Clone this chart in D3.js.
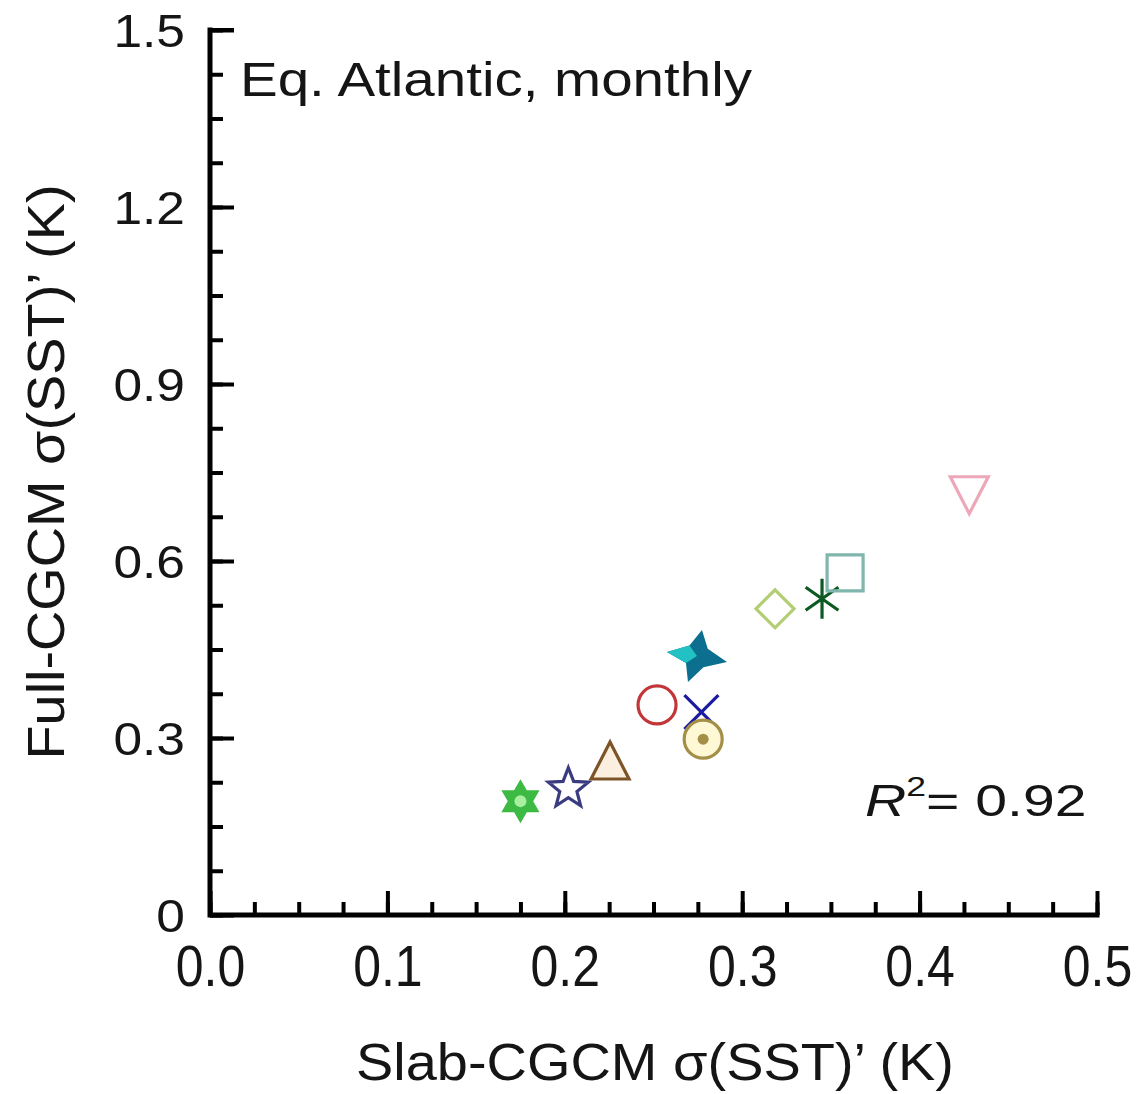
<!DOCTYPE html>
<html>
<head>
<meta charset="utf-8">
<script src="https://cdn.jsdelivr.net/npm/d3@7"></script>
<style>
body { margin: 0; background: #fff; }
text { font-family: "Liberation Sans", Arial, sans-serif; fill: #151515; }
</style>
</head>
<body>
<div id="chart"></div>
<script>
// one marker per model
var models = ['hexagram', 'star', 'triangleUp', 'circle', 'cross', 'circleDot', 'bowtie', 'diamond', 'asterisk', 'square', 'triangleDown']
var slabSd = [0.175, 0.202, 0.2255, 0.252, 0.277, 0.278, 0.2745, 0.3185, 0.345, 0.358, 0.428]
var fullSd = [0.193, 0.214, 0.261, 0.356, 0.344, 0.298, 0.439, 0.519, 0.536, 0.580, 0.714]

var xTicks = [0, 0.1, 0.2, 0.3, 0.4, 0.5]
var xTickLabels = ['0.0', '0.1', '0.2', '0.3', '0.4', '0.5']
var yTicks = [0, 0.3, 0.6, 0.9, 1.2, 1.5]
var yTickLabels = ['0', '0.3', '0.6', '0.9', '1.2', '1.5']

var title = 'Eq. Atlantic, monthly'
var rSquared = '0.92'

var margin = {left: 210, right: 39, top: 30, bottom: 179}
var totalWidth = 1136, totalHeight = 1094
var width = totalWidth - margin.left - margin.right
var height = totalHeight - margin.top - margin.bottom

var svg = d3.select('#chart').append('svg')
  .attr('width', totalWidth)
  .attr('height', totalHeight)

var g = svg.append('g').attr('transform', 'translate(' + margin.left + ',' + margin.top + ')')

var x = d3.scaleLinear().domain([0, 0.5]).range([0, width])
var y = d3.scaleLinear().domain([0, 1.5]).range([height, 0])

// minor ticks
g.append('g')
  .attr('transform', 'translate(0,' + height + ')')
  .call(d3.axisBottom(x).tickValues(d3.range(0, 0.5001, 0.025)).tickSize(-13).tickSizeOuter(0).tickFormat(''))
  .call(s => s.select('.domain').remove())
  .call(s => s.selectAll('line').attr('stroke', '#000').attr('stroke-width', 4))

g.append('g')
  .call(d3.axisLeft(y).tickValues(d3.range(0, 1.5001, 0.075)).tickSize(-13).tickSizeOuter(0).tickFormat(''))
  .call(s => s.select('.domain').remove())
  .call(s => s.selectAll('line').attr('stroke', '#000').attr('stroke-width', 4))

// major ticks + labels
var xAxis = g.append('g')
  .attr('transform', 'translate(0,' + height + ')')
  .call(d3.axisBottom(x).tickValues(xTicks).tickSize(-24).tickSizeOuter(0).tickFormat((d, i) => xTickLabels[i]))
xAxis.select('.domain').remove()
xAxis.selectAll('line').attr('stroke', '#000').attr('stroke-width', 4)
xAxis.selectAll('text')
  .attr('y', 0).attr('dy', null)
  .attr('transform', 'translate(0,71) scale(1.0,1.16)')
  .style('font-size', '50px')
  .attr('fill', '#151515')

var yAxis = g.append('g')
  .call(d3.axisLeft(y).tickValues(yTicks).tickSize(-24).tickSizeOuter(0).tickFormat((d, i) => yTickLabels[i]))
yAxis.select('.domain').remove()
yAxis.selectAll('line').attr('stroke', '#000').attr('stroke-width', 4)
yAxis.selectAll('text')
  .attr('x', 0).attr('dy', '0.36em')
  .attr('transform', 'translate(-25,0) scale(1.12,1)')
  .style('font-size', '46px')
  .attr('fill', '#151515')

// axis frame (left + bottom) with the little top cap
g.append('path')
  .attr('d', 'M' + x(0) + ',' + y(1.5) + 'V' + y(0) + 'H' + x(0.5))
  .attr('fill', 'none').attr('stroke', '#000').attr('stroke-width', 5)
  .attr('stroke-linecap', 'square')
g.append('line')
  .attr('x1', x(0)).attr('x2', x(0) + 24).attr('y1', y(1.5)).attr('y2', y(1.5))
  .attr('stroke', '#000').attr('stroke-width', 4)

// markers
var markerStyle = {
  hexagram: {stroke: 'none', fill: '#3cba44'},
  star: {stroke: '#3b3b80', fill: 'none'},
  triangleUp: {stroke: '#7d5428', fill: '#fbf0e0'},
  circle: {stroke: '#c2363a', fill: 'none'},
  cross: {stroke: '#1b1ba2', fill: 'none'},
  circleDot: {stroke: '#a48f48', fill: '#fff8d4'},
  bowtie: {stroke: 'none', fill: '#0d6f90'},
  diamond: {stroke: '#b2cd72', fill: 'none'},
  asterisk: {stroke: '#0c5a22', fill: 'none'},
  square: {stroke: '#80b6ad', fill: 'none'},
  triangleDown: {stroke: '#eca8b8', fill: 'none'}
}

function poly(pts) { return 'M' + pts.map(p => p[0].toFixed(1) + ',' + p[1].toFixed(1)).join('L') + 'Z' }
function polar(r, deg) { var a = deg * Math.PI / 180; return [r * Math.cos(a), r * Math.sin(a)] }

function markerPath(kind) {
  if (kind == 'hexagram')
    return poly([-90, 30, 150].map(a => polar(22, a))) + poly([90, 210, 330].map(a => polar(22, a)))
  if (kind == 'star')
    return poly(d3.range(10).map(i => polar(i % 2 ? 9 : 21, -90 + i * 36)))
  if (kind == 'triangleUp') return poly([[0, -19], [19, 18], [-19, 18]])
  if (kind == 'triangleDown') return poly([[-19, -17], [19, -17], [0, 20]])
  if (kind == 'circle' || kind == 'circleDot') return 'M19,0A19,19 0 1,1 -19,0A19,19 0 1,1 19,0Z'
  if (kind == 'cross') return 'M-17,-17L17,17M17,-17L-17,17'
  if (kind == 'diamond') return poly([[0, -19], [19, 0], [0, 19], [-19, 0]])
  if (kind == 'square') return poly([[-18, -18], [18, -18], [18, 18], [-18, 18]])
  if (kind == 'asterisk')
    return [90, 35, 145].map(a => { var p = polar(20, a); return 'M' + (-p[0]) + ',' + (-p[1]) + 'L' + p[0] + ',' + p[1] }).join('')
  if (kind == 'bowtie')
    return poly([[5, -26], [10.8, -7.3], [30, 6], [6.5, 11.3], [-9, 26], [-11, 6.9], [-30, -4], [-7.5, -10.6]])
  return ''
}

var points = models.map((m, i) => ({kind: m, slab: slabSd[i], full: fullSd[i]}))

var marks = g.selectAll('g.mark').data(points).join('g')
  .attr('class', 'mark')
  .attr('transform', d => 'translate(' + x(d.slab) + ',' + y(d.full) + ')')

marks.append('path')
  .attr('d', d => markerPath(d.kind))
  .attr('fill', d => markerStyle[d.kind].fill)
  .attr('stroke', d => markerStyle[d.kind].stroke)
  .attr('stroke-width', 3.2)
  .attr('stroke-linejoin', 'miter')

// extra bits on a few markers
marks.filter(d => d.kind == 'hexagram').append('circle')
  .attr('r', 6).attr('fill', '#a8f0a0')
marks.filter(d => d.kind == 'circleDot').append('circle')
  .attr('r', 5.5).attr('fill', '#a48f48')
marks.filter(d => d.kind == 'bowtie').append('path')
  .attr('d', poly([[-30, -4], [-7.5, -10.6], [0, 0], [-11, 6.9]]))
  .attr('fill', '#22c2c4')

// texts
g.append('text')
  .attr('x', 30).attr('y', 66)
  .attr('textLength', 512).attr('lengthAdjust', 'spacingAndGlyphs')
  .style('font-size', '48px')
  .text(title)

var r2 = g.append('g').attr('transform', 'translate(655,786) scale(1.27,1)')
  .append('text')
  .style('font-size', '45px')
r2.append('tspan').style('font-style', 'italic').text('R')
r2.append('tspan').attr('dy', -20).style('font-size', '28px').text('2')
r2.append('tspan').attr('dy', 20).text('= ' + rSquared)

svg.append('text')
  .attr('x', 655).attr('y', 1080)
  .attr('text-anchor', 'middle')
  .attr('textLength', 598).attr('lengthAdjust', 'spacingAndGlyphs')
  .style('font-size', '52px')
  .text('Slab-CGCM σ(SST)\u2019 (K)')

svg.append('text')
  .attr('transform', 'translate(64,472) rotate(-90)')
  .attr('text-anchor', 'middle')
  .attr('textLength', 575).attr('lengthAdjust', 'spacingAndGlyphs')
  .style('font-size', '52px')
  .text('Full-CGCM σ(SST)\u2019 (K)')
</script>
</body>
</html>
